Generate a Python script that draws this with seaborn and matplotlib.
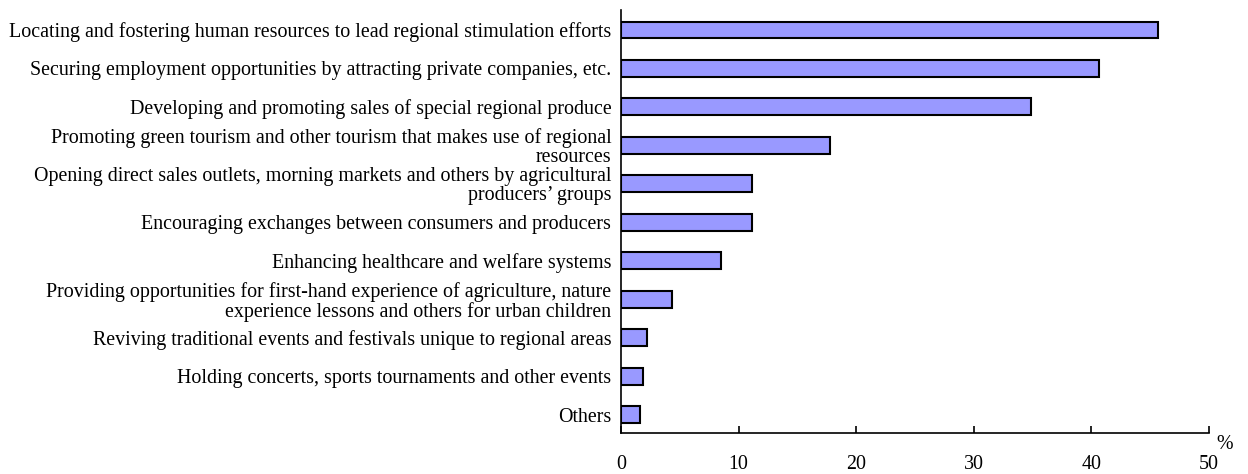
import matplotlib
matplotlib.use("Agg")
import matplotlib.pyplot as plt
import pandas as pd
import seaborn as sns

items = [
    "Locating and fostering human resources to lead regional stimulation efforts",
    "Securing employment opportunities by attracting private companies, etc.",
    "Developing and promoting sales of special regional produce",
    "Promoting green tourism and other tourism that makes use of regional\nresources",
    "Opening direct sales outlets, morning markets and others by agricultural\nproducers\u2019 groups",
    "Encouraging exchanges between consumers and producers",
    "Enhancing healthcare and welfare systems",
    "Providing opportunities for first-hand experience of agriculture, nature\nexperience lessons and others for urban children",
    "Reviving traditional events and festivals unique to regional areas",
    "Holding concerts, sports tournaments and other events",
    "Others",
]
percent = [45.7, 40.6, 34.9, 17.8, 11.1, 11.1, 8.5, 4.3, 2.2, 1.9, 1.6]
xticks = [0, 10, 20, 30, 40, 50]

df = pd.DataFrame({"item": items, "percent": percent})

sns.set_style("white")
plt.rcParams["font.family"] = ["Liberation Serif", "DejaVu Serif"]
plt.rcParams["text.color"] = "black"
plt.rcParams["xtick.color"] = "black"
plt.rcParams["ytick.color"] = "black"

fig = plt.figure(figsize=(12.48, 4.74), dpi=100)
ax = fig.add_axes([0.4976, 0.0865, 0.4712, 0.8925])
sns.barplot(data=df, x="percent", y="item", orient="h", color="#9999ff",
            saturation=1, edgecolor="black", linewidth=1.5, width=0.44, ax=ax)

ax.set_xlim(0, 50)
ax.set_ylim(10.47, -0.52)
ax.set_xticks(xticks)
ax.set_xticklabels([str(t) for t in xticks], fontsize=14.4)
ax.tick_params(axis="x", direction="in", length=5, width=1.2, pad=16, bottom=True)
ax.tick_params(axis="y", length=0, pad=7, labelsize=14.4)
for lbl in ax.get_yticklabels():
    lbl.set_multialignment("right")
    lbl.set_linespacing(1.0)
ax.set_xlabel("")
ax.set_ylabel("")
for s in ["top", "right"]:
    ax.spines[s].set_visible(False)
for s in ["left", "bottom"]:
    ax.spines[s].set_linewidth(1.2)
    ax.spines[s].set_color("black")
ax.text(1.012, -0.005, "%", transform=ax.transAxes, fontsize=14.4, va="top", ha="left")

fig.savefig("out.png", dpi=100)
